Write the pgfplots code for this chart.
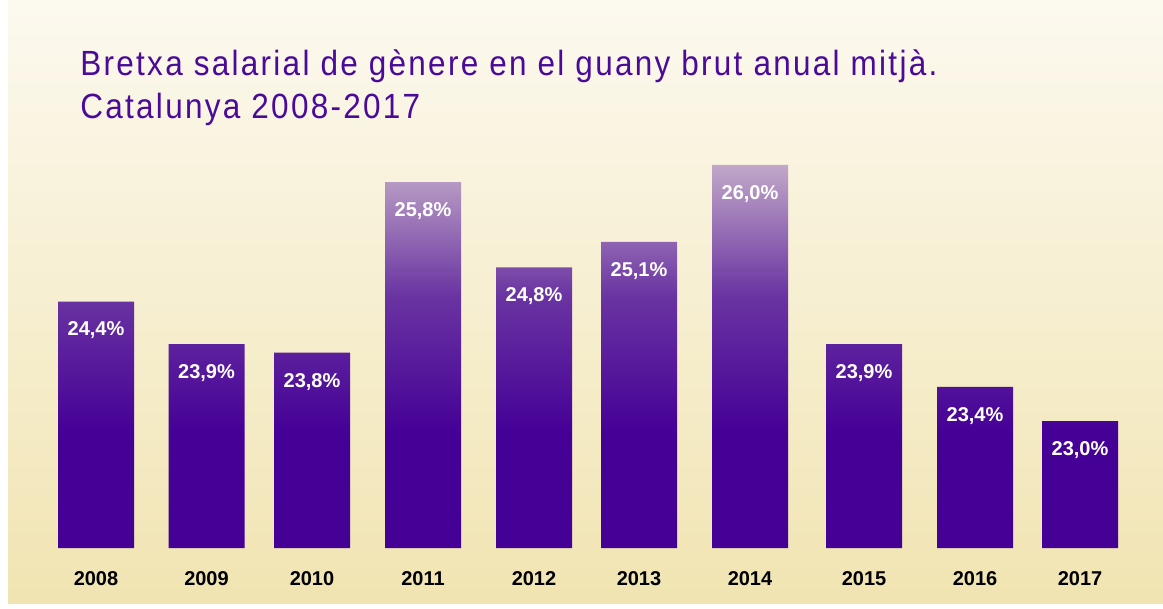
\documentclass[border=0pt]{standalone}
\usepackage{pgfplots}
\pgfplotsset{compat=1.18}
\usepackage{fontspec}
\setmainfont{Liberation Sans}
\newfontfamily\titlefont[FakeStretch=0.9, LetterSpace=6.5]{Liberation Sans}
\definecolor{titlepurple}{HTML}{4A0A9A}
\definecolor{bgtop}{HTML}{FCF9EF}
\definecolor{bgbot}{HTML}{F1E4B2}
\definecolor{bdark}{HTML}{450096}
\definecolor{bmid}{HTML}{6A34A2}
\definecolor{blight}{HTML}{C1A8C8}
\pgfdeclareverticalshading{barshade}{100bp}{color(0bp)=(bdark); color(25bp)=(bdark); color(40bp)=(bdark); color(58bp)=(bmid); color(75bp)=(blight); color(100bp)=(blight)}

\pgfplotstableread{
x     val
96    24.4
206.5 23.9
312   23.8
423   25.8
534   24.8
639   25.1
750   26.0
864   23.9
975   23.4
1080  23.0
}\gapdata

\begin{document}
\begin{tikzpicture}
% page background, 1px = 0.5pt
\fill[white] (0,0) rectangle (581.5pt,304pt);
\shade[top color=bgtop, bottom color=bgbot] (4pt,2.5pt) rectangle (581.5pt,304pt);

\node[anchor=base west, inner sep=0pt, text=titlepurple, font=\titlefont\fontsize{17.5}{20}\selectfont] at (40pt,266.5pt)
  {Bretxa salarial de gènere en el guany brut anual mitjà.};
\node[anchor=base west, inner sep=0pt, text=titlepurple, font=\titlefont\fontsize{17.5}{20}\selectfont] at (40pt,245pt)
  {Catalunya 2008-2017};

\begin{axis}[
    at={(0pt,30pt)}, anchor=south west,
    scale only axis,
    width=581.5pt, height=274pt,
    xmin=0, xmax=1163,
    ymin=21.51, ymax=27.93,
    axis line style={draw=none},
    major tick length=0pt,
    ytick=\empty,
    xtick={96,206.5,312,423,534,639,750,864,975,1080},
    xticklabels={2008,2009,2010,2011,2012,2013,2014,2015,2016,2017},
    xticklabel style={font=\bfseries\fontsize{10}{12}\selectfont, text=black, yshift=-8pt},
    clip=false,
]
\addplot[ybar, bar width=38pt, draw=none, shading=barshade,
    nodes near coords={\pgfmathprintnumber[fixed,fixed zerofill,precision=1,use comma,assume math mode=true]{\pgfplotspointmeta}\%},
    nodes near coords style={anchor=center, yshift=-14.5pt, text=white, font=\bfseries\fontsize{10}{12}\selectfont},
] table[x=x, y=val] {\gapdata};
\end{axis}
\end{tikzpicture}
\end{document}
